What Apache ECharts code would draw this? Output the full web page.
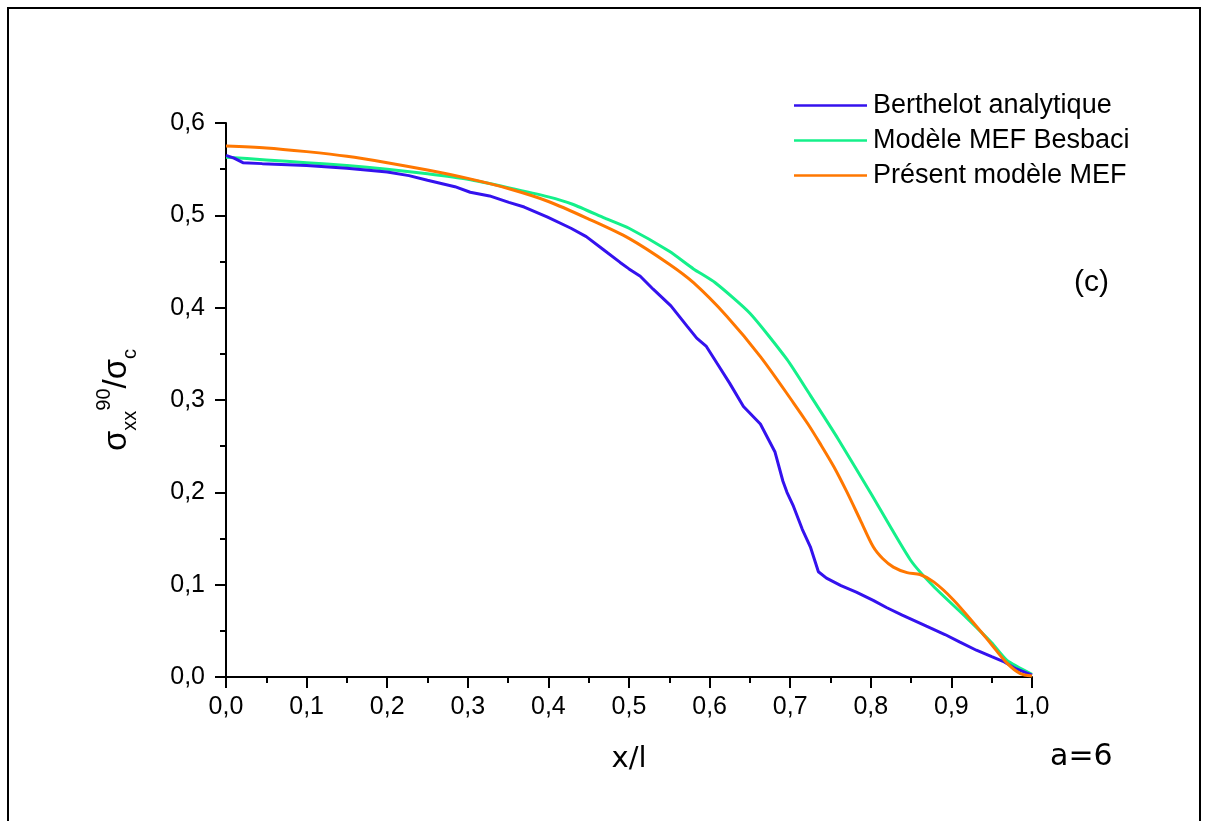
<!DOCTYPE html>
<html>
<head>
<meta charset="utf-8">
<script src="https://cdn.jsdelivr.net/npm/echarts@6/dist/echarts.min.js"></script>
<style>
html,body{margin:0;padding:0;background:#fff;}
#chart{width:1209px;height:821px;}
</style>
</head>
<body>
<div id="chart"></div>
<script>
const seriesNames = ['Berthelot analytique', 'Modèle MEF Besbaci', 'Présent modèle MEF'];
const xTicks = [0, 0.1, 0.2, 0.3, 0.4, 0.5, 0.6, 0.7, 0.8, 0.9, 1.0];
const yTicks = [0, 0.1, 0.2, 0.3, 0.4, 0.5, 0.6];

const berthelot = [[0,0.565],[0.01,0.562],[0.021,0.557],[0.045,0.556],[0.1,0.554],[0.15,0.551],[0.2,0.547],[0.227,0.543],[0.25,0.538],[0.284,0.531],[0.303,0.525],[0.327,0.521],[0.351,0.514],[0.37,0.509],[0.399,0.498],[0.428,0.486],[0.447,0.477],[0.468,0.463],[0.489,0.449],[0.5,0.442],[0.514,0.434],[0.53,0.420],[0.552,0.402],[0.572,0.380],[0.584,0.367],[0.596,0.358],[0.609,0.340],[0.625,0.318],[0.642,0.293],[0.663,0.274],[0.681,0.244],[0.691,0.212],[0.696,0.200],[0.704,0.185],[0.715,0.160],[0.725,0.141],[0.735,0.114],[0.745,0.107],[0.763,0.099],[0.782,0.092],[0.803,0.083],[0.82,0.075],[0.839,0.067],[0.869,0.055],[0.892,0.046],[0.91,0.038],[0.931,0.029],[0.95,0.022],[0.964,0.017],[0.98,0.009],[1.0,0.002]];

const besbaci = [[0,0.563],[0.05,0.560],[0.1,0.557],[0.15,0.554],[0.2,0.550],[0.25,0.545],[0.3,0.539],[0.35,0.530],[0.4,0.520],[0.43,0.512],[0.47,0.497],[0.5,0.486],[0.55,0.461],[0.58,0.442],[0.607,0.427],[0.65,0.394],[0.696,0.344],[0.725,0.305],[0.76,0.257],[0.8,0.199],[0.849,0.127],[0.878,0.098],[0.919,0.064],[0.95,0.037],[0.969,0.018],[1.0,0.003]];

const present = [[0,0.575],[0.05,0.573],[0.1,0.569],[0.15,0.564],[0.2,0.557],[0.25,0.549],[0.3,0.540],[0.35,0.529],[0.4,0.515],[0.45,0.496],[0.5,0.475],[0.55,0.447],[0.58,0.427],[0.621,0.391],[0.663,0.347],[0.704,0.297],[0.722,0.274],[0.737,0.253],[0.754,0.228],[0.77,0.201],[0.787,0.170],[0.803,0.141],[0.815,0.128],[0.828,0.119],[0.845,0.113],[0.861,0.111],[0.878,0.103],[0.902,0.084],[0.931,0.055],[0.95,0.035],[0.969,0.015],[0.985,0.004],[1.0,0.001]];

const colors = ['#3412EE', '#14F08A', '#FF7700'];

const chart = echarts.init(document.getElementById('chart'), null, {renderer: 'canvas'});
const fmt = v => v.toFixed(1).replace('.', ',');
const axisCommon = {
  axisLine: {show: true, lineStyle: {color: '#000', width: 2}},
  axisTick: {show: true, inside: false, length: 11, lineStyle: {color: '#000', width: 2}},
  minorTick: {show: true, splitNumber: 2, length: 6, lineStyle: {color: '#000', width: 2}},
  splitLine: {show: false},
  minorSplitLine: {show: false}
};
chart.setOption({
  animation: false,
  backgroundColor: '#fff',
  grid: {left: 226, right: 177, top: 123, bottom: 144, containLabel: false},
  legend: {
    orient: 'vertical', left: 794, top: 92, padding: 0, itemWidth: 73, itemHeight: 20, itemGap: 8,
    icon: 'path://M0,9 L73,9 L73,11.5 L0,11.5 Z',
    textStyle: {fontFamily: 'Liberation Sans', fontSize: 27, color: '#000', padding: [0, 0, 0, 1]},
    data: seriesNames
  },
  xAxis: Object.assign({
    type: 'value', min: xTicks[0], max: xTicks[xTicks.length - 1], interval: 0.1,
    name: 'x/l', nameLocation: 'middle', nameGap: 68,
    nameTextStyle: {fontFamily: 'DejaVu Sans', fontSize: 29, color: '#000'},
    axisLabel: {formatter: fmt, margin: 18, fontFamily: 'Liberation Sans', fontSize: 25, color: '#000'}
  }, axisCommon),
  yAxis: Object.assign({
    type: 'value', min: yTicks[0], max: yTicks[yTicks.length - 1], interval: 0.1,
    name: '{s|σ}{sub|xx}{sup|90}{s|/σ}{sub|c}', nameLocation: 'middle', nameRotate: 90, nameGap: 86,
    nameTextStyle: {
      color: '#000', fontFamily: 'Liberation Sans',
      rich: {
        s: {fontFamily: 'Liberation Sans', fontSize: 33, lineHeight: 46, color: '#000', verticalAlign: 'middle'},
        sub: {fontFamily: 'Liberation Sans', fontSize: 20, lineHeight: 20, color: '#000', verticalAlign: 'bottom'},
        sup: {fontFamily: 'Liberation Sans', fontSize: 20, lineHeight: 20, color: '#000', verticalAlign: 'top'}
      }
    },
    axisLabel: {formatter: fmt, margin: 21, fontFamily: 'Liberation Sans', fontSize: 25, color: '#000'}
  }, axisCommon),
  graphic: [
    {type: 'rect', shape: {x: 8, y: 8, width: 1192, height: 830}, style: {fill: 'none', stroke: '#000', lineWidth: 2}, silent: true},
    {type: 'text', left: 1074, top: 268, style: {text: '(c)', fontFamily: 'Liberation Sans', fontSize: 30, fill: '#000'}},
    {type: 'text', left: 1050, top: 742, style: {text: 'a=6', fontFamily: 'DejaVu Sans', fontSize: 30, fill: '#000'}}
  ],
  series: [
    {name: seriesNames[0], type: 'line', data: berthelot, symbol: 'none', showSymbol: false, smooth: false,
     lineStyle: {color: colors[0], width: 3}, itemStyle: {color: colors[0]}, z: 3},
    {name: seriesNames[1], type: 'line', data: besbaci, symbol: 'none', showSymbol: false, smooth: 0.2,
     lineStyle: {color: colors[1], width: 3}, itemStyle: {color: colors[1]}, z: 2},
    {name: seriesNames[2], type: 'line', data: present, symbol: 'none', showSymbol: false, smooth: 0.3,
     lineStyle: {color: colors[2], width: 3}, itemStyle: {color: colors[2]}, z: 4}
  ]
});
</script>
</body>
</html>
